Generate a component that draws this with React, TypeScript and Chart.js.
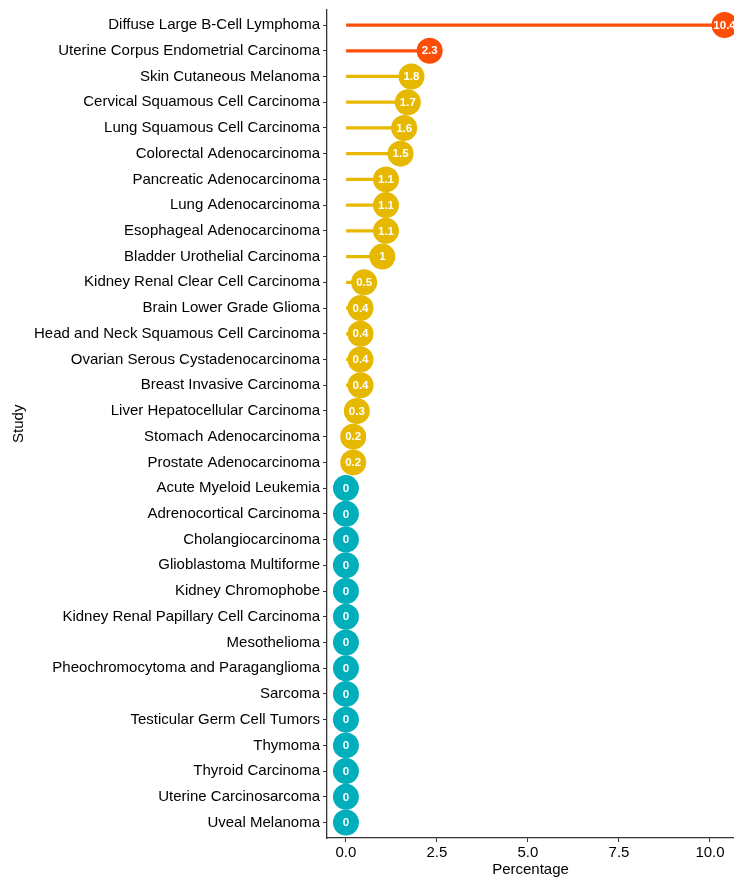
import React, { useEffect, useRef } from "react";
import { Chart, registerables } from "chart.js";

Chart.register(...registerables);

const studies = [
  "Diffuse Large B-Cell Lymphoma",
  "Uterine Corpus Endometrial Carcinoma",
  "Skin Cutaneous Melanoma",
  "Cervical Squamous Cell Carcinoma",
  "Lung Squamous Cell Carcinoma",
  "Colorectal Adenocarcinoma",
  "Pancreatic Adenocarcinoma",
  "Lung Adenocarcinoma",
  "Esophageal Adenocarcinoma",
  "Bladder Urothelial Carcinoma",
  "Kidney Renal Clear Cell Carcinoma",
  "Brain Lower Grade Glioma",
  "Head and Neck Squamous Cell Carcinoma",
  "Ovarian Serous Cystadenocarcinoma",
  "Breast Invasive Carcinoma",
  "Liver Hepatocellular Carcinoma",
  "Stomach Adenocarcinoma",
  "Prostate Adenocarcinoma",
  "Acute Myeloid Leukemia",
  "Adrenocortical Carcinoma",
  "Cholangiocarcinoma",
  "Glioblastoma Multiforme",
  "Kidney Chromophobe",
  "Kidney Renal Papillary Cell Carcinoma",
  "Mesothelioma",
  "Pheochromocytoma and Paraganglioma",
  "Sarcoma",
  "Testicular Germ Cell Tumors",
  "Thymoma",
  "Thyroid Carcinoma",
  "Uterine Carcinosarcoma",
  "Uveal Melanoma",
];

const percentages = [
  10.4, 2.3, 1.8, 1.7, 1.6, 1.5, 1.1, 1.1, 1.1, 1, 0.5, 0.4, 0.4, 0.4, 0.4, 0.3,
  0.2, 0.2, 0, 0, 0, 0, 0, 0, 0, 0, 0, 0, 0, 0, 0, 0,
];

const groups = [
  "high", "high", "mid", "mid", "mid", "mid", "mid", "mid", "mid", "mid", "mid",
  "mid", "mid", "mid", "mid", "mid", "mid", "mid", "zero", "zero", "zero", "zero",
  "zero", "zero", "zero", "zero", "zero", "zero", "zero", "zero", "zero", "zero",
];

const xTicks = [0, 2.5, 5, 7.5, 10];
const xTickLabels = ["0.0", "2.5", "5.0", "7.5", "10.0"];

const groupColors: Record<string, string> = {
  high: "#FC4E07",
  mid: "#E7B800",
  zero: "#00AFBB",
};

const FONT = "'Liberation Sans', Arial, Helvetica, sans-serif";

const valueLabels = {
  id: "valueLabels",
  afterDatasetsDraw(chart: any) {
    const meta = chart.getDatasetMeta(0);
    const ctx = chart.ctx;
    ctx.save();
    ctx.fillStyle = "#ffffff";
    ctx.font = `bold 11.5px ${FONT}`;
    ctx.textAlign = "center";
    ctx.textBaseline = "middle";
    meta.data.forEach((pt: any, i: number) => {
      ctx.fillText(String(percentages[i]), pt.x, pt.y + 0.5);
    });
    ctx.restore();
  },
};

export default function App() {
  const ref = useRef<HTMLCanvasElement>(null);

  useEffect(() => {
    if (!ref.current) return;
    const colors = groups.map((g) => groupColors[g]);
    const chart = new Chart(ref.current, {
      type: "bar",
      data: {
        datasets: [
          {
            type: "scatter",
            data: percentages.map((v, i) => ({ x: v, y: i })),
            backgroundColor: colors,
            borderWidth: 0,
            pointRadius: 13,
            pointHoverRadius: 13,
            clip: false,
            order: 0,
          } as any,
          {
            type: "bar",
            data: percentages.map((v, i) => ({ x: [0, v], y: i })),
            backgroundColor: colors,
            borderWidth: 0,
            barThickness: 2.6,
            order: 1,
          } as any,
        ],
      },
      options: {
        indexAxis: "y",
        animation: false,
        responsive: false,
        maintainAspectRatio: false,
        layout: { autoPadding: false, padding: { top: 9.6, right: 0, left: 0, bottom: 0 } },
        plugins: {
          legend: { display: false },
          tooltip: { enabled: false },
        },
        scales: {
          x: {
            type: "linear",
            min: -0.52,
            max: 10.66,
            offset: false,
            afterBuildTicks: (scale: any) => {
              scale.ticks = xTicks.map((v) => ({ value: v }));
            },
            afterFit: (scale: any) => {
              scale.height = 39;
              scale.paddingLeft = 0;
              scale.paddingRight = 0;
            },
            ticks: {
              color: "#000",
              font: { family: FONT, size: 15 },
              padding: 2,
              callback: (v: any) => {
                const idx = xTicks.indexOf(Number(v));
                return idx >= 0 ? xTickLabels[idx] : "";
              },
            },
            grid: {
              display: true,
              offset: false,
              drawOnChartArea: false,
              drawTicks: true,
              tickLength: 4,
              color: "#333",
              lineWidth: 1,
            },
            border: { display: true, color: "#333", width: 1.3 },
            title: {
              display: true,
              text: "Percentage",
              color: "#000",
              font: { family: FONT, size: 15 },
              padding: { top: 0, bottom: -2 },
            },
          },
          y: {
            type: "linear",
            reverse: true,
            offset: false,
            min: -0.6,
            max: studies.length - 1 + 0.6,
            afterBuildTicks: (scale: any) => {
              scale.ticks = studies.map((_, i) => ({ value: i }));
            },
            afterFit: (scale: any) => {
              scale.width = 327;
              scale.paddingTop = 0;
              scale.paddingBottom = 0;
            },
            ticks: {
              color: "#000",
              font: { family: FONT, size: 15 },
              padding: 3,
              autoSkip: false,
              callback: (v: any) => studies[Number(v)] ?? "",
            },
            grid: {
              display: true,
              offset: false,
              drawOnChartArea: false,
              drawTicks: true,
              tickLength: 4,
              color: "#333",
              lineWidth: 1,
            },
            border: { display: true, color: "#333", width: 1.3 },
            title: {
              display: true,
              text: "Study",
              color: "#000",
              font: { family: FONT, size: 15 },
              padding: { top: 10, bottom: 0 },
            },
          },
        },
      },
      plugins: [valueLabels],
    });
    return () => chart.destroy();
  }, []);

  return (
    <div style={{ position: "fixed", left: 0, top: 0, width: 734, height: 877, background: "#fff" }}>
      <canvas ref={ref} width={734} height={877} style={{ width: 734, height: 877 }} />
    </div>
  );
}
